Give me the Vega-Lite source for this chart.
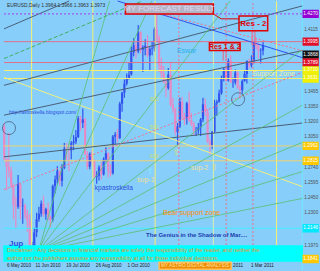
{
  "$schema": "https://vega.github.io/schema/vega-lite/v6.json",
  "width": 320,
  "height": 271,
  "autosize": {"type": "fit", "contains": "padding"},
  "padding": 0,
  "background": "#87CEFA",
  "config": {"view": {"stroke": null, "fill": "#87CEFA"}, "text": {"font": "Liberation Sans", "baseline": "middle"}},
  "datasets": {
    "bars": [
      {"i":-1.5,"o":1.3155,"h":1.3190,"l":1.2815,"c":1.2835},
      {"i":0.5,"o":1.2835,"h":1.2840,"l":1.2523,"c":1.2754},
      {"i":2.5,"o":1.2754,"h":1.3094,"l":1.2650,"c":1.2715},
      {"i":4.5,"o":1.2715,"h":1.2755,"l":1.2540,"c":1.2566},
      {"i":6.5,"o":1.2566,"h":1.2590,"l":1.2235,"c":1.2375},
      {"i":8.5,"o":1.2375,"h":1.2460,"l":1.2143,"c":1.2360},
      {"i":10.5,"o":1.2360,"h":1.2674,"l":1.2340,"c":1.2580},
      {"i":12.5,"o":1.2580,"h":1.2590,"l":1.2235,"c":1.2365},
      {"i":14.5,"o":1.2365,"h":1.2440,"l":1.2190,"c":1.2370},
      {"i":16.5,"o":1.2370,"h":1.2390,"l":1.2240,"c":1.2280},
      {"i":18.5,"o":1.2280,"h":1.2330,"l":1.2111,"c":1.2220},
      {"i":20.5,"o":1.2220,"h":1.2290,"l":1.1960,"c":1.1965},
      {"i":22.5,"o":1.1965,"h":1.2010,"l":1.1876,"c":1.1975},
      {"i":24.5,"o":1.1975,"h":1.2150,"l":1.1960,"c":1.2105},
      {"i":26.5,"o":1.2105,"h":1.2300,"l":1.2060,"c":1.2235},
      {"i":28.5,"o":1.2235,"h":1.2360,"l":1.2210,"c":1.2290},
      {"i":30.5,"o":1.2290,"h":1.2420,"l":1.2260,"c":1.2390},
      {"i":32.5,"o":1.2390,"h":1.2470,"l":1.2260,"c":1.2285},
      {"i":34.5,"o":1.2285,"h":1.2350,"l":1.2230,"c":1.2335},
      {"i":36.5,"o":1.2335,"h":1.2400,"l":1.2220,"c":1.2260},
      {"i":38.5,"o":1.2260,"h":1.2270,"l":1.2150,"c":1.2230},
      {"i":40.5,"o":1.2230,"h":1.2580,"l":1.2210,"c":1.2565},
      {"i":42.5,"o":1.2565,"h":1.2670,"l":1.2490,"c":1.2630},
      {"i":44.5,"o":1.2630,"h":1.2760,"l":1.2590,"c":1.2715},
      {"i":46.5,"o":1.2715,"h":1.2720,"l":1.2570,"c":1.2615},
      {"i":48.5,"o":1.2615,"h":1.2780,"l":1.2560,"c":1.2745},
      {"i":50.5,"o":1.2745,"h":1.2990,"l":1.2730,"c":1.2935},
      {"i":52.5,"o":1.2935,"h":1.2990,"l":1.2820,"c":1.2925},
      {"i":54.5,"o":1.2925,"h":1.2960,"l":1.2710,"c":1.2920},
      {"i":56.5,"o":1.2920,"h":1.3010,"l":1.2830,"c":1.2990},
      {"i":58.5,"o":1.2990,"h":1.3070,"l":1.2920,"c":1.3005},
      {"i":60.5,"o":1.3005,"h":1.3120,"l":1.2980,"c":1.3050},
      {"i":62.5,"o":1.3050,"h":1.3260,"l":1.3040,"c":1.3235},
      {"i":64.5,"o":1.3235,"h":1.3260,"l":1.3110,"c":1.3190},
      {"i":66.5,"o":1.3190,"h":1.3333,"l":1.3140,"c":1.3225},
      {"i":68.5,"o":1.3225,"h":1.3240,"l":1.2870,"c":1.2880},
      {"i":70.5,"o":1.2880,"h":1.2910,"l":1.2730,"c":1.2755},
      {"i":72.5,"o":1.2755,"h":1.2900,"l":1.2730,"c":1.2885},
      {"i":74.5,"o":1.2885,"h":1.2920,"l":1.2780,"c":1.2815},
      {"i":76.5,"o":1.2815,"h":1.2830,"l":1.2640,"c":1.2656},
      {"i":78.5,"o":1.2656,"h":1.2710,"l":1.2588,"c":1.2667},
      {"i":80.5,"o":1.2667,"h":1.2770,"l":1.2620,"c":1.2750},
      {"i":82.5,"o":1.2750,"h":1.2800,"l":1.2630,"c":1.2680},
      {"i":84.5,"o":1.2680,"h":1.2850,"l":1.2670,"c":1.2830},
      {"i":86.5,"o":1.2830,"h":1.2950,"l":1.2800,"c":1.2890},
      {"i":88.5,"o":1.2890,"h":1.2900,"l":1.2650,"c":1.2715},
      {"i":90.5,"o":1.2715,"h":1.2780,"l":1.2660,"c":1.2690},
      {"i":92.5,"o":1.2690,"h":1.3070,"l":1.2680,"c":1.3055},
      {"i":94.5,"o":1.3055,"h":1.3100,"l":1.2980,"c":1.3075},
      {"i":96.5,"o":1.3075,"h":1.3130,"l":1.3000,"c":1.3040},
      {"i":98.5,"o":1.3040,"h":1.3400,"l":1.3030,"c":1.3380},
      {"i":100.5,"o":1.3380,"h":1.3500,"l":1.3300,"c":1.3490},
      {"i":102.5,"o":1.3490,"h":1.3620,"l":1.3440,"c":1.3580},
      {"i":104.5,"o":1.3580,"h":1.3680,"l":1.3560,"c":1.3630},
      {"i":106.5,"o":1.3630,"h":1.3795,"l":1.3620,"c":1.3670},
      {"i":108.5,"o":1.3670,"h":1.3945,"l":1.3660,"c":1.3890},
      {"i":110.5,"o":1.3890,"h":1.4030,"l":1.3850,"c":1.3960},
      {"i":112.5,"o":1.3960,"h":1.3990,"l":1.3830,"c":1.3900},
      {"i":114.5,"o":1.3900,"h":1.4160,"l":1.3880,"c":1.4090},
      {"i":116.5,"o":1.4090,"h":1.4100,"l":1.3880,"c":1.3915},
      {"i":118.5,"o":1.3915,"h":1.3960,"l":1.3695,"c":1.3940},
      {"i":120.5,"o":1.3940,"h":1.4020,"l":1.3860,"c":1.3955},
      {"i":122.5,"o":1.3955,"h":1.4060,"l":1.3840,"c":1.3860},
      {"i":124.5,"o":1.3860,"h":1.3940,"l":1.3715,"c":1.3925},
      {"i":126.5,"o":1.3925,"h":1.4000,"l":1.3860,"c":1.3930},
      {"i":128.5,"o":1.3930,"h":1.4140,"l":1.3900,"c":1.4120},
      {"i":130.5,"o":1.4120,"h":1.4281,"l":1.3990,"c":1.4030},
      {"i":132.5,"o":1.4030,"h":1.4060,"l":1.3695,"c":1.3760},
      {"i":134.5,"o":1.3760,"h":1.3840,"l":1.3640,"c":1.3680},
      {"i":136.5,"o":1.3680,"h":1.3755,"l":1.3580,"c":1.3600},
      {"i":138.5,"o":1.3600,"h":1.3630,"l":1.3445,"c":1.3535},
      {"i":140.5,"o":1.3535,"h":1.3735,"l":1.3520,"c":1.3670},
      {"i":142.5,"o":1.3670,"h":1.3785,"l":1.3350,"c":1.3370},
      {"i":144.5,"o":1.3370,"h":1.3440,"l":1.3290,"c":1.3330},
      {"i":146.5,"o":1.3330,"h":1.3340,"l":1.3065,"c":1.3100},
      {"i":148.5,"o":1.3100,"h":1.3190,"l":1.2968,"c":1.3155},
      {"i":150.5,"o":1.3155,"h":1.3440,"l":1.3140,"c":1.3400},
      {"i":152.5,"o":1.3400,"h":1.3450,"l":1.3220,"c":1.3250},
      {"i":154.5,"o":1.3250,"h":1.3290,"l":1.3170,"c":1.3235},
      {"i":156.5,"o":1.3235,"h":1.3400,"l":1.3175,"c":1.3385},
      {"i":158.5,"o":1.3385,"h":1.3500,"l":1.3200,"c":1.3215},
      {"i":160.5,"o":1.3215,"h":1.3290,"l":1.3160,"c":1.3180},
      {"i":162.5,"o":1.3180,"h":1.3200,"l":1.3070,"c":1.3115},
      {"i":164.5,"o":1.3115,"h":1.3150,"l":1.3060,"c":1.3115},
      {"i":166.5,"o":1.3115,"h":1.3190,"l":1.3080,"c":1.3145},
      {"i":168.5,"o":1.3145,"h":1.3240,"l":1.3060,"c":1.3225},
      {"i":170.5,"o":1.3225,"h":1.3440,"l":1.3200,"c":1.3375},
      {"i":172.5,"o":1.3375,"h":1.3430,"l":1.3260,"c":1.3300},
      {"i":174.5,"o":1.3300,"h":1.3330,"l":1.2990,"c":1.3000},
      {"i":176.5,"o":1.3000,"h":1.3030,"l":1.2874,"c":1.2970},
      {"i":178.5,"o":1.2970,"h":1.3110,"l":1.2930,"c":1.3105},
      {"i":180.5,"o":1.3105,"h":1.3420,"l":1.3090,"c":1.3385},
      {"i":182.5,"o":1.3385,"h":1.3420,"l":1.3260,"c":1.3400},
      {"i":184.5,"o":1.3400,"h":1.3520,"l":1.3390,"c":1.3485},
      {"i":186.5,"o":1.3485,"h":1.3660,"l":1.3470,"c":1.3625},
      {"i":188.5,"o":1.3625,"h":1.3740,"l":1.3600,"c":1.3720},
      {"i":190.5,"o":1.3720,"h":1.3760,"l":1.3600,"c":1.3610},
      {"i":192.5,"o":1.3610,"h":1.3830,"l":1.3600,"c":1.3805},
      {"i":194.5,"o":1.3805,"h":1.3860,"l":1.3590,"c":1.3590},
      {"i":196.5,"o":1.3590,"h":1.3640,"l":1.3540,"c":1.3592},
      {"i":198.5,"o":1.3592,"h":1.3720,"l":1.3570,"c":1.3690},
      {"i":200.5,"o":1.3690,"h":1.3710,"l":1.3530,"c":1.3545},
      {"i":202.5,"o":1.3545,"h":1.3560,"l":1.3430,"c":1.3515},
      {"i":204.5,"o":1.3515,"h":1.3620,"l":1.3480,"c":1.3605},
      {"i":206.5,"o":1.3605,"h":1.3710,"l":1.3600,"c":1.3675},
      {"i":208.5,"o":1.3675,"h":1.3810,"l":1.3580,"c":1.3805},
      {"i":210.5,"o":1.3805,"h":1.3830,"l":1.3730,"c":1.3760},
      {"i":212.5,"o":1.3760,"h":1.3860,"l":1.3740,"c":1.3800},
      {"i":214.5,"o":1.3800,"h":1.4000,"l":1.3780,"c":1.3985},
      {"i":216.5,"o":1.3985,"h":1.4035,"l":1.3920,"c":1.3965},
      {"i":218.5,"o":1.3965,"h":1.3980,"l":1.3830,"c":1.3905},
      {"i":220.5,"o":1.3905,"h":1.3930,"l":1.3780,"c":1.3908},
      {"i":222.5,"o":1.3908,"h":1.3995,"l":1.3860,"c":1.3963}
    ],
    "segs": [
      {"kind":"res","x1":-1.71,"y1":1.3996,"x2":256.4,"y2":1.3996},
      {"kind":"res","x1":-1.71,"y1":1.3789,"x2":256.4,"y2":1.3789},
      {"kind":"sup","x1":-1.71,"y1":1.3710,"x2":256.4,"y2":1.3710},
      {"kind":"sup","x1":-1.71,"y1":1.3631,"x2":256.4,"y2":1.3631},
      {"kind":"sup2","x1":-1.71,"y1":1.2962,"x2":256.4,"y2":1.2962},
      {"kind":"sup2","x1":-1.71,"y1":1.2815,"x2":256.4,"y2":1.2815},
      {"kind":"cyanlevel","x1":-1.71,"y1":1.2146,"x2":256.4,"y2":1.2146},
      {"kind":"sup","x1":22.2,"y1":1.1821,"x2":22.2,"y2":1.4399},
      {"kind":"sup","x1":75.2,"y1":1.1821,"x2":75.2,"y2":1.4399},
      {"kind":"sup","x1":129.1,"y1":1.1821,"x2":129.1,"y2":1.4399},
      {"kind":"sup","x1":234.2,"y1":1.1821,"x2":234.2,"y2":1.4399},
      {"kind":"cycle","x1":179.5,"y1":1.1821,"x2":179.5,"y2":1.4399},
      {"kind":"frame","x1":256.4,"y1":1.1732,"x2":256.4,"y2":1.4399},
      {"kind":"blue","x1":96.6,"y1":1.4399,"x2":256.4,"y2":1.3838},
      {"kind":"trend","x1":-1.71,"y1":1.2854,"x2":256.4,"y2":1.3189},
      {"kind":"trend","x1":-1.71,"y1":1.3267,"x2":256.4,"y2":1.3907},
      {"kind":"trend","x1":-1.71,"y1":1.3563,"x2":256.4,"y2":1.4350},
      {"kind":"trend","x1":-1.71,"y1":1.4123,"x2":54.7,"y2":1.4399},
      {"kind":"ydiag","x1":-1.71,"y1":1.3641,"x2":256.4,"y2":1.2559},
      {"kind":"conn","x1":179.5,"y1":1.4271,"x2":186.3,"y2":1.4222},
      {"kind":"conn","x1":186.3,"y1":1.4222,"x2":201.7,"y2":1.4222},
      {"kind":"connp","x1":213.0,"y1":1.4104,"x2":213.0,"y2":1.3957},
      {"kind":"connp","x1":215.5,"y1":1.4104,"x2":215.5,"y2":1.3957},
      {"kind":"connp","x1":188.0,"y1":1.3907,"x2":188.0,"y2":1.3809},
      {"kind":"connp","x1":190.5,"y1":1.3907,"x2":190.5,"y2":1.3809},
      {"kind":"fan","x1":28.2,"y1":1.1919,"x2":89.7,"y2":1.4399},
      {"kind":"fan","x1":28.2,"y1":1.1919,"x2":126.1,"y2":1.4399},
      {"kind":"fan","x1":28.2,"y1":1.1919,"x2":194.0,"y2":1.4399},
      {"kind":"fan","x1":28.2,"y1":1.1919,"x2":256.4,"y2":1.3917},
      {"kind":"fan","x1":28.2,"y1":1.1919,"x2":256.4,"y2":1.3366},
      {"kind":"fan","x1":28.2,"y1":1.1919,"x2":256.4,"y2":1.2997},
      {"kind":"fan","x1":28.2,"y1":1.1919,"x2":256.4,"y2":1.2707},
      {"kind":"fan","x1":28.2,"y1":1.1919,"x2":256.4,"y2":1.2441},
      {"kind":"purple","x1":-1.71,"y1":1.4271,"x2":256.4,"y2":1.4271},
      {"kind":"pinkdot","x1":149.6,"y1":1.1821,"x2":149.6,"y2":1.4399},
      {"kind":"pinkdot","x1":190.6,"y1":1.1821,"x2":190.6,"y2":1.4399},
      {"kind":"pinkdot","x1":213.7,"y1":1.1821,"x2":213.7,"y2":1.4399},
      {"kind":"pinkdot","x1":-1.71,"y1":1.2529,"x2":256.4,"y2":1.3691},
      {"kind":"pinkdot","x1":135.0,"y1":1.4271,"x2":256.4,"y2":1.3907},
      {"kind":"greendash","x1":-1.71,"y1":1.3828,"x2":117.9,"y2":1.4399}
    ],
    "boxes": [
      {"kind":"forecast","x1":103.4,"x2":179.5,"y1":1.4271,"y2":1.4369},
      {"kind":"resbox","x1":201.7,"x2":226.5,"y1":1.4104,"y2":1.4251},
      {"kind":"resbox","x1":176.1,"x2":202.6,"y1":1.3907,"y2":1.3986},
      {"kind":"disclaimer","x1":-1.71,"x2":256.4,"y1":1.1821,"y2":1.1969},
      {"kind":"astrobox","x1":132.5,"x2":194.9,"y1":1.1740,"y2":1.1808},
      {"kind":"tag_purple","x1":257.3,"x2":270.1,"y1":1.4237,"y2":1.4305},
      {"kind":"tag_red","x1":257.3,"x2":270.1,"y1":1.3962,"y2":1.4030},
      {"kind":"tag_black","x1":257.3,"x2":270.1,"y1":1.3834,"y2":1.3902},
      {"kind":"tag_red","x1":257.3,"x2":270.1,"y1":1.3755,"y2":1.3823},
      {"kind":"tag_yellow","x1":257.3,"x2":270.1,"y1":1.3676,"y2":1.3744},
      {"kind":"tag_yellow","x1":257.3,"x2":270.1,"y1":1.3597,"y2":1.3665},
      {"kind":"tag_gold","x1":257.3,"x2":270.1,"y1":1.2928,"y2":1.2996},
      {"kind":"tag_gold","x1":257.3,"x2":270.1,"y1":1.2781,"y2":1.2849},
      {"kind":"tag_cyan","x1":257.3,"x2":270.1,"y1":1.2112,"y2":1.2180},
      {"kind":"tag_gold","x1":257.3,"x2":270.1,"y1":1.1807,"y2":1.1875}
    ],
    "circles": [
      {"x":200.9,"y":1.3425},
      {"x":2.6,"y":1.3139}
    ],
    "texts": [
      {"kind":"header","x":0.85,"y":1.4350,"t":"EURUSD,Daily  1.3964 1.3966 1.3963 1.3973"},
      {"kind":"url","x":2.6,"y":1.3287,"t":"http://astroskella.blogspot.com/"},
      {"kind":"astro","x":76.9,"y":1.2549,"t":"kpastroskella"},
      {"kind":"disclaimer","x":0.85,"y":1.1929,"t":"Disclaimer:- Any decisions in financial markets are solely the responsibility of the reader, and neither the"},
      {"kind":"disclaimer","x":0.85,"y":1.1850,"t":"author nor the publishers assume any responsibility at all for those individual decisions."},
      {"kind":"date","x":0.85,"y":1.1772,"t":"6 May 2010"},
      {"kind":"date","x":25.6,"y":1.1772,"t":"11 Jun 2010"},
      {"kind":"date","x":52.1,"y":1.1772,"t":"19 Jul 2010"},
      {"kind":"date","x":77.8,"y":1.1772,"t":"26 Aug 2010"},
      {"kind":"date","x":105.1,"y":1.1772,"t":"1 Oct 2010"},
      {"kind":"date","x":196.6,"y":1.1772,"t":"2011"},
      {"kind":"date","x":212.0,"y":1.1772,"t":"1 Mar 2011"},
      {"kind":"price","x":258.1,"y":1.4115,"t":"1.4115"},
      {"kind":"price","x":258.1,"y":1.3495,"t":"1.3495"},
      {"kind":"price","x":258.1,"y":1.3350,"t":"1.3350"},
      {"kind":"price","x":258.1,"y":1.3200,"t":"1.3200"},
      {"kind":"price","x":258.1,"y":1.3050,"t":"1.3050"},
      {"kind":"price","x":258.1,"y":1.2740,"t":"1.2740"},
      {"kind":"price","x":258.1,"y":1.2595,"t":"1.2595"},
      {"kind":"price","x":258.1,"y":1.2450,"t":"1.2450"},
      {"kind":"price","x":258.1,"y":1.2300,"t":"1.2300"},
      {"kind":"price","x":258.1,"y":1.1970,"t":"1.1970"},
      {"kind":"fib","x":124.5,"y":1.3415,"t":"38.2"},
      {"kind":"fib","x":124.5,"y":1.3140,"t":"50.0"},
      {"kind":"fib","x":124.5,"y":1.2854,"t":"61.8"},
      {"kind":"tag","x":263.7,"y":1.4271,"t":"1.4270"},
      {"kind":"tag","x":263.7,"y":1.3996,"t":"1.3995"},
      {"kind":"tag","x":263.7,"y":1.3868,"t":"1.3868"},
      {"kind":"tag","x":263.7,"y":1.3789,"t":"1.3789"},
      {"kind":"tag","x":263.7,"y":1.3710,"t":"1.3710"},
      {"kind":"tag","x":263.7,"y":1.3631,"t":"1.3631"},
      {"kind":"tag","x":263.7,"y":1.2962,"t":"1.2962"},
      {"kind":"tag","x":263.7,"y":1.2815,"t":"1.2815"},
      {"kind":"tag","x":263.7,"y":1.2146,"t":"1.2146"},
      {"kind":"tag","x":263.7,"y":1.1841,"t":"1.1841"},
      {"kind":"boxlabel","x":163.7,"y":1.1774,"t":"MY ASTRO DIGITAL ANALYSIS"},
      {"kind":"eswar","x":156.4,"y":1.3907,"t":"Eswar"},
      {"kind":"target","x":173.5,"y":1.3750,"t":"Target"},
      {"kind":"zone","x":231.6,"y":1.3671,"t":"Support Zone"},
      {"kind":"suplabel","x":167.5,"y":1.2746,"t":"sup-2"},
      {"kind":"suplabel","x":121.0,"y":1.2628,"t":"sup-1"},
      {"kind":"bear","x":160.7,"y":1.2293,"t":"Bear support zone"},
      {"kind":"title","x":141.5,"y":1.4320,"t":"MY FORECAST RESULT"},
      {"kind":"arrow","x":147.9,"y":1.2893,"t":"⇧"},
      {"kind":"arrow","x":180.3,"y":1.2746,"t":"⇧"},
      {"kind":"arrowc","x":124.8,"y":1.2707,"t":"⇧"},
      {"kind":"restext","x":214.1,"y":1.4175,"t":"Res - 2"},
      {"kind":"res12","x":189.4,"y":1.3946,"t":"Res 1 & 2"},
      {"kind":"genius","x":165.0,"y":1.2077,"t":"The Genius in the Shadow of Mar...."},
      {"kind":"jup","x":2.6,"y":1.1988,"t":"Jup"}
    ]
  },
  "layer": [
    {
      "data": {"name": "bars"},
      "mark": {"type": "rule", "strokeWidth": 1.2},
      "encoding": {
        "x": {"field": "i", "type": "quantitative", "scale": {"domain": [-1.71, 271.8], "nice": false, "zero": false}, "axis": null},
        "y": {"field": "l", "type": "quantitative", "scale": {"domain": [1.1732, 1.4399], "nice": false, "zero": false}, "axis": null},
        "y2": {"field": "h"},
        "color": {"condition": {"test": "datum.c >= datum.o", "value": "#3355ee"}, "value": "#e88ac6"}
      }
    },
    {
      "data": {"name": "bars"},
      "mark": {"type": "rule", "strokeWidth": 2.2},
      "encoding": {
        "x": {"field": "i", "type": "quantitative", "scale": {"domain": [-1.71, 271.8], "nice": false, "zero": false}, "axis": null},
        "y": {"field": "o", "type": "quantitative", "scale": {"domain": [1.1732, 1.4399], "nice": false, "zero": false}, "axis": null},
        "y2": {"field": "c"},
        "color": {"condition": {"test": "datum.c >= datum.o", "value": "#3355ee"}, "value": "#e88ac6"}
      }
    },
    {
      "data": {"name": "segs"},
      "transform": [{"filter": "indexof(['fan','purple','pinkdot','greendash'], datum.kind) < 0"}],
      "mark": {"type": "rule", "strokeWidth": 1},
      "encoding": {
        "x": {"field": "x1", "type": "quantitative", "scale": {"domain": [-1.71, 271.8], "nice": false, "zero": false}, "axis": null},
        "y": {"field": "y1", "type": "quantitative", "scale": {"domain": [1.1732, 1.4399], "nice": false, "zero": false}, "axis": null},
        "x2": {"field": "x2"},
        "y2": {"field": "y2"},
        "color": {"field": "kind", "type": "nominal", "legend": null, "scale": {"domain": ["res","sup","sup2","cyanlevel","cycle","frame","blue","trend","ydiag","conn","connp"], "range": ["#e0708a","#f8f070","#f0d070","#40f0ff","#d8f0b0","#70e8ff","#3050f0","#4a6078","#f0f080","#e00000","#f06080"]}}
      }
    },
    {
      "data": {"name": "segs"},
      "transform": [{"filter": "datum.kind == 'fan'"}],
      "mark": {"type": "rule", "strokeWidth": 0.8, "color": "#58c070"},
      "encoding": {
        "x": {"field": "x1", "type": "quantitative", "scale": {"domain": [-1.71, 271.8], "nice": false, "zero": false}, "axis": null},
        "y": {"field": "y1", "type": "quantitative", "scale": {"domain": [1.1732, 1.4399], "nice": false, "zero": false}, "axis": null},
        "x2": {"field": "x2"},
        "y2": {"field": "y2"}
      }
    },
    {
      "data": {"name": "segs"},
      "transform": [{"filter": "datum.kind == 'purple'"}],
      "mark": {"type": "rule", "strokeWidth": 1, "strokeDash": [2, 2], "color": "#a040f0"},
      "encoding": {
        "x": {"field": "x1", "type": "quantitative", "scale": {"domain": [-1.71, 271.8], "nice": false, "zero": false}, "axis": null},
        "y": {"field": "y1", "type": "quantitative", "scale": {"domain": [1.1732, 1.4399], "nice": false, "zero": false}, "axis": null},
        "x2": {"field": "x2"},
        "y2": {"field": "y2"}
      }
    },
    {
      "data": {"name": "segs"},
      "transform": [{"filter": "datum.kind == 'pinkdot'"}],
      "mark": {"type": "rule", "strokeWidth": 1, "strokeDash": [2, 2], "color": "#f07090"},
      "encoding": {
        "x": {"field": "x1", "type": "quantitative", "scale": {"domain": [-1.71, 271.8], "nice": false, "zero": false}, "axis": null},
        "y": {"field": "y1", "type": "quantitative", "scale": {"domain": [1.1732, 1.4399], "nice": false, "zero": false}, "axis": null},
        "x2": {"field": "x2"},
        "y2": {"field": "y2"}
      }
    },
    {
      "data": {"name": "segs"},
      "transform": [{"filter": "datum.kind == 'greendash'"}],
      "mark": {"type": "rule", "strokeWidth": 1, "strokeDash": [4, 2], "color": "#40b060"},
      "encoding": {
        "x": {"field": "x1", "type": "quantitative", "scale": {"domain": [-1.71, 271.8], "nice": false, "zero": false}, "axis": null},
        "y": {"field": "y1", "type": "quantitative", "scale": {"domain": [1.1732, 1.4399], "nice": false, "zero": false}, "axis": null},
        "x2": {"field": "x2"},
        "y2": {"field": "y2"}
      }
    },
    {
      "data": {"name": "circles"},
      "mark": {"type": "point", "shape": "circle", "filled": false, "size": 170, "stroke": "#405070", "strokeWidth": 1},
      "encoding": {
        "x": {"field": "x", "type": "quantitative", "scale": {"domain": [-1.71, 271.8], "nice": false, "zero": false}, "axis": null},
        "y": {"field": "y", "type": "quantitative", "scale": {"domain": [1.1732, 1.4399], "nice": false, "zero": false}, "axis": null}
      }
    },
    {
      "data": {"name": "boxes"},
      "mark": {"type": "rect", "strokeWidth": 1.5},
      "encoding": {
        "x": {"field": "x1", "type": "quantitative", "scale": {"domain": [-1.71, 271.8], "nice": false, "zero": false}, "axis": null},
        "y": {"field": "y1", "type": "quantitative", "scale": {"domain": [1.1732, 1.4399], "nice": false, "zero": false}, "axis": null},
        "x2": {"field": "x2"},
        "y2": {"field": "y2"},
        "fill": {"field": "kind", "type": "nominal", "legend": null, "scale": {"domain": ["forecast","resbox","disclaimer","astrobox","tag_purple","tag_red","tag_black","tag_yellow","tag_gold","tag_cyan"], "range": ["#b4b4c4","transparent","#00ffff","#f08c00","#9400d3","#e0102a","#101010","#f0f000","#ffc800","#00e8ff"]}},
        "stroke": {"field": "kind", "type": "nominal", "legend": null, "scale": {"domain": ["forecast","resbox","disclaimer","astrobox","tag_purple","tag_red","tag_black","tag_yellow","tag_gold","tag_cyan"], "range": ["#e00000","#e00000","#00ffff","#ffc060","#9400d3","#e0102a","#101010","#f0f000","#ffc800","#00e8ff"]}}
      }
    },
    {
      "data": {"name": "texts"},
      "transform": [{"filter": "indexof(['date','price','fib'], datum.kind) >= 0"}],
      "mark": {"type": "text", "align": "left", "fontSize": 4.6},
      "encoding": {
        "x": {"field": "x", "type": "quantitative", "scale": {"domain": [-1.71, 271.8], "nice": false, "zero": false}, "axis": null},
        "y": {"field": "y", "type": "quantitative", "scale": {"domain": [1.1732, 1.4399], "nice": false, "zero": false}, "axis": null},
        "text": {"field": "t"},
        "color": {"field": "kind", "type": "nominal", "legend": null, "scale": {"domain": ["date","price","fib"], "range": ["#202020","#505050","#d0e060"]}}
      }
    },
    {
      "data": {"name": "texts"},
      "transform": [{"filter": "datum.kind == 'disclaimer'"}],
      "mark": {"type": "text", "align": "left", "fontSize": 5.5, "color": "#f08a20"},
      "encoding": {
        "x": {"field": "x", "type": "quantitative", "scale": {"domain": [-1.71, 271.8], "nice": false, "zero": false}, "axis": null},
        "y": {"field": "y", "type": "quantitative", "scale": {"domain": [1.1732, 1.4399], "nice": false, "zero": false}, "axis": null},
        "text": {"field": "t"}
      }
    },
    {
      "data": {"name": "texts"},
      "transform": [{"filter": "indexof(['header','url'], datum.kind) >= 0"}],
      "mark": {"type": "text", "align": "left", "fontSize": 4.9},
      "encoding": {
        "x": {"field": "x", "type": "quantitative", "scale": {"domain": [-1.71, 271.8], "nice": false, "zero": false}, "axis": null},
        "y": {"field": "y", "type": "quantitative", "scale": {"domain": [1.1732, 1.4399], "nice": false, "zero": false}, "axis": null},
        "text": {"field": "t"},
        "color": {"field": "kind", "type": "nominal", "legend": null, "scale": {"domain": ["header","url"], "range": ["#303030","#2a4ee0"]}}
      }
    },
    {
      "data": {"name": "texts"},
      "transform": [{"filter": "datum.kind == 'astro'"}],
      "mark": {"type": "text", "align": "left", "fontSize": 6.5, "color": "#2a4ee0"},
      "encoding": {
        "x": {"field": "x", "type": "quantitative", "scale": {"domain": [-1.71, 271.8], "nice": false, "zero": false}, "axis": null},
        "y": {"field": "y", "type": "quantitative", "scale": {"domain": [1.1732, 1.4399], "nice": false, "zero": false}, "axis": null},
        "text": {"field": "t"}
      }
    },
    {
      "data": {"name": "texts"},
      "transform": [{"filter": "indexof(['tag','boxlabel'], datum.kind) >= 0"}],
      "mark": {"type": "text", "align": "center", "fontSize": 4.8},
      "encoding": {
        "x": {"field": "x", "type": "quantitative", "scale": {"domain": [-1.71, 271.8], "nice": false, "zero": false}, "axis": null},
        "y": {"field": "y", "type": "quantitative", "scale": {"domain": [1.1732, 1.4399], "nice": false, "zero": false}, "axis": null},
        "text": {"field": "t"},
        "color": {"field": "kind", "type": "nominal", "legend": null, "scale": {"domain": ["tag","boxlabel"], "range": ["#ffffff","#ffe8b0"]}}
      }
    },
    {
      "data": {"name": "texts"},
      "transform": [{"filter": "indexof(['eswar','target','zone','suplabel','bear'], datum.kind) >= 0"}],
      "mark": {"type": "text", "align": "center", "fontSize": 7},
      "encoding": {
        "x": {"field": "x", "type": "quantitative", "scale": {"domain": [-1.71, 271.8], "nice": false, "zero": false}, "axis": null},
        "y": {"field": "y", "type": "quantitative", "scale": {"domain": [1.1732, 1.4399], "nice": false, "zero": false}, "axis": null},
        "text": {"field": "t"},
        "color": {"field": "kind", "type": "nominal", "legend": null, "scale": {"domain": ["eswar","target","zone","suplabel","bear"], "range": ["#2ab0ea","#70e0ff","#f0f0a0","#f0e090","#ff8c00"]}}
      }
    },
    {
      "data": {"name": "texts"},
      "transform": [{"filter": "indexof(['title','arrow','arrowc'], datum.kind) >= 0"}],
      "mark": {"type": "text", "align": "center", "fontSize": 8},
      "encoding": {
        "x": {"field": "x", "type": "quantitative", "scale": {"domain": [-1.71, 271.8], "nice": false, "zero": false}, "axis": null},
        "y": {"field": "y", "type": "quantitative", "scale": {"domain": [1.1732, 1.4399], "nice": false, "zero": false}, "axis": null},
        "text": {"field": "t"},
        "color": {"field": "kind", "type": "nominal", "legend": null, "scale": {"domain": ["title","arrow","arrowc"], "range": ["#e0d8f8","#f0e060","#80f0ff"]}}
      }
    },
    {
      "data": {"name": "texts"},
      "transform": [{"filter": "datum.kind == 'restext'"}],
      "mark": {"type": "text", "align": "center", "fontSize": 8, "fontWeight": "bold", "color": "#e00000"},
      "encoding": {
        "x": {"field": "x", "type": "quantitative", "scale": {"domain": [-1.71, 271.8], "nice": false, "zero": false}, "axis": null},
        "y": {"field": "y", "type": "quantitative", "scale": {"domain": [1.1732, 1.4399], "nice": false, "zero": false}, "axis": null},
        "text": {"field": "t"}
      }
    },
    {
      "data": {"name": "texts"},
      "transform": [{"filter": "datum.kind == 'res12'"}],
      "mark": {"type": "text", "align": "center", "fontSize": 7, "fontWeight": "bold", "color": "#e00000"},
      "encoding": {
        "x": {"field": "x", "type": "quantitative", "scale": {"domain": [-1.71, 271.8], "nice": false, "zero": false}, "axis": null},
        "y": {"field": "y", "type": "quantitative", "scale": {"domain": [1.1732, 1.4399], "nice": false, "zero": false}, "axis": null},
        "text": {"field": "t"}
      }
    },
    {
      "data": {"name": "texts"},
      "transform": [{"filter": "datum.kind == 'genius'"}],
      "mark": {"type": "text", "align": "center", "fontSize": 6, "fontWeight": "bold", "color": "#2040b0"},
      "encoding": {
        "x": {"field": "x", "type": "quantitative", "scale": {"domain": [-1.71, 271.8], "nice": false, "zero": false}, "axis": null},
        "y": {"field": "y", "type": "quantitative", "scale": {"domain": [1.1732, 1.4399], "nice": false, "zero": false}, "axis": null},
        "text": {"field": "t"}
      }
    },
    {
      "data": {"name": "texts"},
      "transform": [{"filter": "datum.kind == 'jup'"}],
      "mark": {"type": "text", "align": "left", "fontSize": 8, "fontWeight": "bold", "color": "#2a4ee0"},
      "encoding": {
        "x": {"field": "x", "type": "quantitative", "scale": {"domain": [-1.71, 271.8], "nice": false, "zero": false}, "axis": null},
        "y": {"field": "y", "type": "quantitative", "scale": {"domain": [1.1732, 1.4399], "nice": false, "zero": false}, "axis": null},
        "text": {"field": "t"}
      }
    }
  ],
  "resolve": {"scale": {"color": "independent", "fill": "independent", "stroke": "independent"}}
}
